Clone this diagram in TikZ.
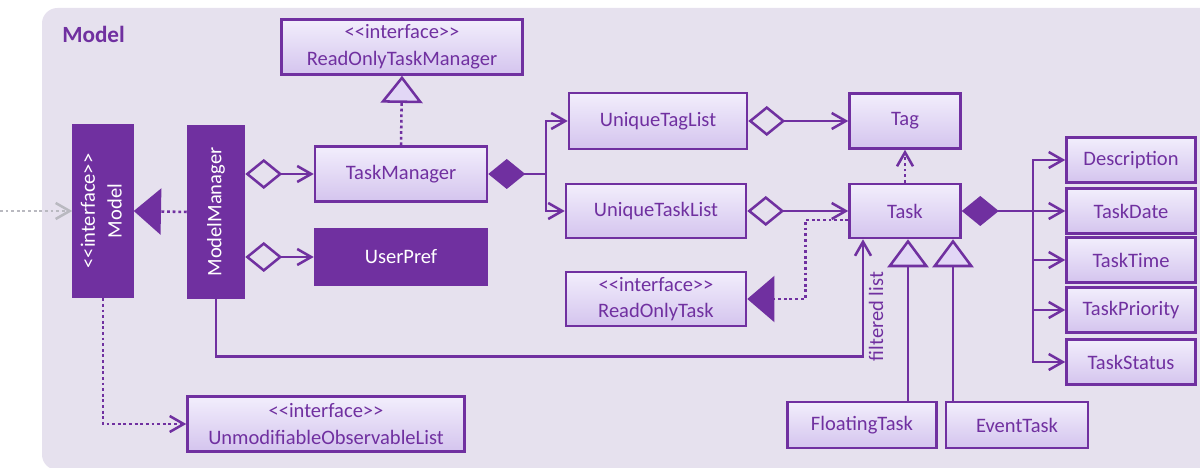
\documentclass[tikz,border=0pt]{standalone}
\usepackage{fontspec}
\setmainfont{Carlito}[Ligatures=TeXOff]
\usepackage{tikz}
\usetikzlibrary{arrows.meta, positioning, calc}
\definecolor{mypurple}{RGB}{112,48,160}
\definecolor{mgpanel}{RGB}{230,225,238}
\definecolor{boxtop}{RGB}{242,238,252}
\definecolor{boxbot}{RGB}{212,196,238}
\definecolor{trifill}{RGB}{226,215,246}
\definecolor{mygray}{RGB}{185,185,192}
\tikzset{
  classbox/.style={rectangle, draw=mypurple, top color=boxtop, bottom color=boxbot,
    text=mypurple, align=center, inner sep=2pt, line width=1.8pt,
    font=\fontsize{14.6}{19}\selectfont},
  solidbox/.style={rectangle, draw=mypurple, fill=mypurple, text=white,
    align=center, inner sep=2pt, line width=1.8pt,
    font=\fontsize{14.6}{19}\selectfont},
  assoc/.style={-{Straight Barb[length=3.5mm,width=4mm]}, line width=1.8pt, color=mypurple},
  aggr/.style={{Diamond[open,length=9.25mm,width=7.5mm]}-{Straight Barb[length=3.5mm,width=4mm]},
    line width=1.8pt, color=mypurple},
  compose/.style={{Diamond[length=9.25mm,width=7.5mm]}-, line width=1.8pt, color=mypurple},
  depend/.style={-{Straight Barb[length=3.5mm,width=4mm]}, line width=1.8pt, color=mypurple,
    dash pattern=on 2pt off 2pt},
  realise/.style={-{Triangle[length=6.8mm,width=11.5mm]}, line width=1.8pt, color=mypurple,
    dash pattern=on 2pt off 2pt},
  implement/.style={-{Triangle[length=6.8mm,width=10.5mm,fill=trifill]}, line width=1.8pt,
    color=mypurple, dash pattern=on 2pt off 2pt},
  inherit/.style={-{Triangle[length=7mm,width=10.25mm,fill=trifill]}, line width=1.8pt,
    color=mypurple}
}

\begin{document}
\begin{tikzpicture}
  \useasboundingbox (0,0) rectangle (30,11.7);
  \clip (0,0) rectangle (30,11.7);

  % Package frame
  \fill[mgpanel, rounded corners=11pt] (1.05,-0.05) rectangle (31,11.5);
  \node[anchor=west, inner sep=0pt, text=mypurple, font=\fontsize{16.5}{19}\selectfont\bfseries] (title) at (1.55,10.84) {Model};

  % Model interface and its manager
  \node[solidbox, minimum width=1.4cm, minimum height=4.3cm] (model) at (2.575,6.425)
    {\rotatebox{90}{\begin{tabular}{@{}c@{}}<<interface>>\\Model\end{tabular}}};
  \node[solidbox, minimum width=1.4cm, minimum height=4.3cm] (manager) at (5.4,6.4)
    {\rotatebox{90}{ModelManager}};

  % Task manager and preferences
  \node[classbox, minimum width=6.025cm, minimum height=1.375cm] (rotm) at (10.05,10.525) {<<interface>>\\ReadOnlyTaskManager};
  \node[classbox, minimum width=4.3cm, minimum height=1.375cm] (taskmgr) at (10.025,7.35) {TaskManager};
  \node[solidbox, minimum width=4.3cm, minimum height=1.4cm] (userpref) at (10.025,5.275) {UserPref};
  \node[classbox, minimum width=6.925cm, minimum height=1.375cm] (unmod) at (8.15,1.1) {<<interface>>\\UnmodifiableObservableList};

  % Lists
  \node[classbox, minimum width=4.45cm, minimum height=1.4cm] (taglist) at (16.45,8.675) {UniqueTagList};
  \node[classbox, minimum width=4.5cm, minimum height=1.35cm] (tasklist) at (16.4,6.425) {UniqueTaskList};
  \node[classbox, minimum width=4.5cm, minimum height=1.35cm] (rotask) at (16.4,4.225) {<<interface>>\\ReadOnlyTask};

  % Tag and task
  \node[classbox, minimum width=2.775cm, minimum height=1.375cm] (tag) at (22.625,8.675) {Tag};
  \node[classbox, minimum width=2.775cm, minimum height=1.35cm] (task) at (22.625,6.425) {Task};
  \node[classbox, minimum width=3.725cm, minimum height=1.15cm] (floating) at (21.55,1.075) {FloatingTask};
  \node[classbox, minimum width=3.55cm, minimum height=1.15cm] (event) at (25.425,1.075) {EventTask};

  % Task fields
  \node[classbox, minimum width=3.225cm, minimum height=1.125cm] (descr) at (28.275,7.7) {Description};
  \node[classbox, minimum width=3.225cm, minimum height=1.125cm] (date) at (28.275,6.425) {TaskDate};
  \node[classbox, minimum width=3.225cm, minimum height=1.125cm] (time) at (28.275,5.2) {TaskTime};
  \node[classbox, minimum width=3.225cm, minimum height=1.125cm] (prio) at (28.275,3.95) {TaskPriority};
  \node[classbox, minimum width=3.225cm, minimum height=1.125cm] (status) at (28.275,2.65) {TaskStatus};

  % Access from outside the component
  \coordinate (outside) at (0,6.425);
  \draw[depend, color=mygray] (outside) -- (model.west);

  % Manager side
  \draw[realise] (manager.west) -- (model.east);
  \draw[aggr] (manager.east |- taskmgr.west) -- (taskmgr.west);
  \draw[aggr] (manager.east |- userpref.west) -- (userpref.west);
  \draw[implement] (taskmgr.north) -- (rotm.south);
  \draw[depend] (model.south) |- (unmod.west);

  % TaskManager owns both lists
  \coordinate (tmfork) at (13.65,7.35);
  \draw[compose] (taskmgr.east) -- (tmfork);
  \draw[assoc] (tmfork) |- (taglist.west);
  \draw[assoc] (tmfork) |- (tasklist.west);

  \draw[aggr] (taglist.east) -- (tag.west);
  \draw[aggr] (tasklist.east) -- (task.west);
  \draw[depend] (task.north) -- (tag.south);

  % Task realises ReadOnlyTask
  \coordinate (rtjoin) at ($(rotask.east)+(1.45,0)$);
  \draw[realise] ([yshift=-0.225cm]task.west) -| (rtjoin) -- (rotask.east);

  % Filtered list from the manager
  \draw[assoc] (manager.south) -- ++(0,-1.425) -| ([xshift=-1.05cm]task.south)
    node[pos=0.67, rotate=90, anchor=north, text=mypurple, font=\fontsize{14.6}{17}\selectfont] {filtered list};

  % Task fields
  \coordinate (tkfork) at (25.825,6.425);
  \draw[compose] (task.east) -- (tkfork);
  \draw[assoc] (tkfork) |- (descr.west);
  \draw[assoc] (tkfork) |- (date.west);
  \draw[assoc] (tkfork) |- (time.west);
  \draw[assoc] (tkfork) |- (prio.west);
  \draw[assoc] (tkfork) |- (status.west);

  % Subclasses
  \coordinate (ftup) at ([xshift=1.15cm]floating.north);
  \draw[inherit] (ftup) -- (ftup |- task.south);
  \coordinate (etup) at ([xshift=-1.6cm]event.north);
  \draw[inherit] (etup) -- (etup |- task.south);

\end{tikzpicture}
\end{document}
